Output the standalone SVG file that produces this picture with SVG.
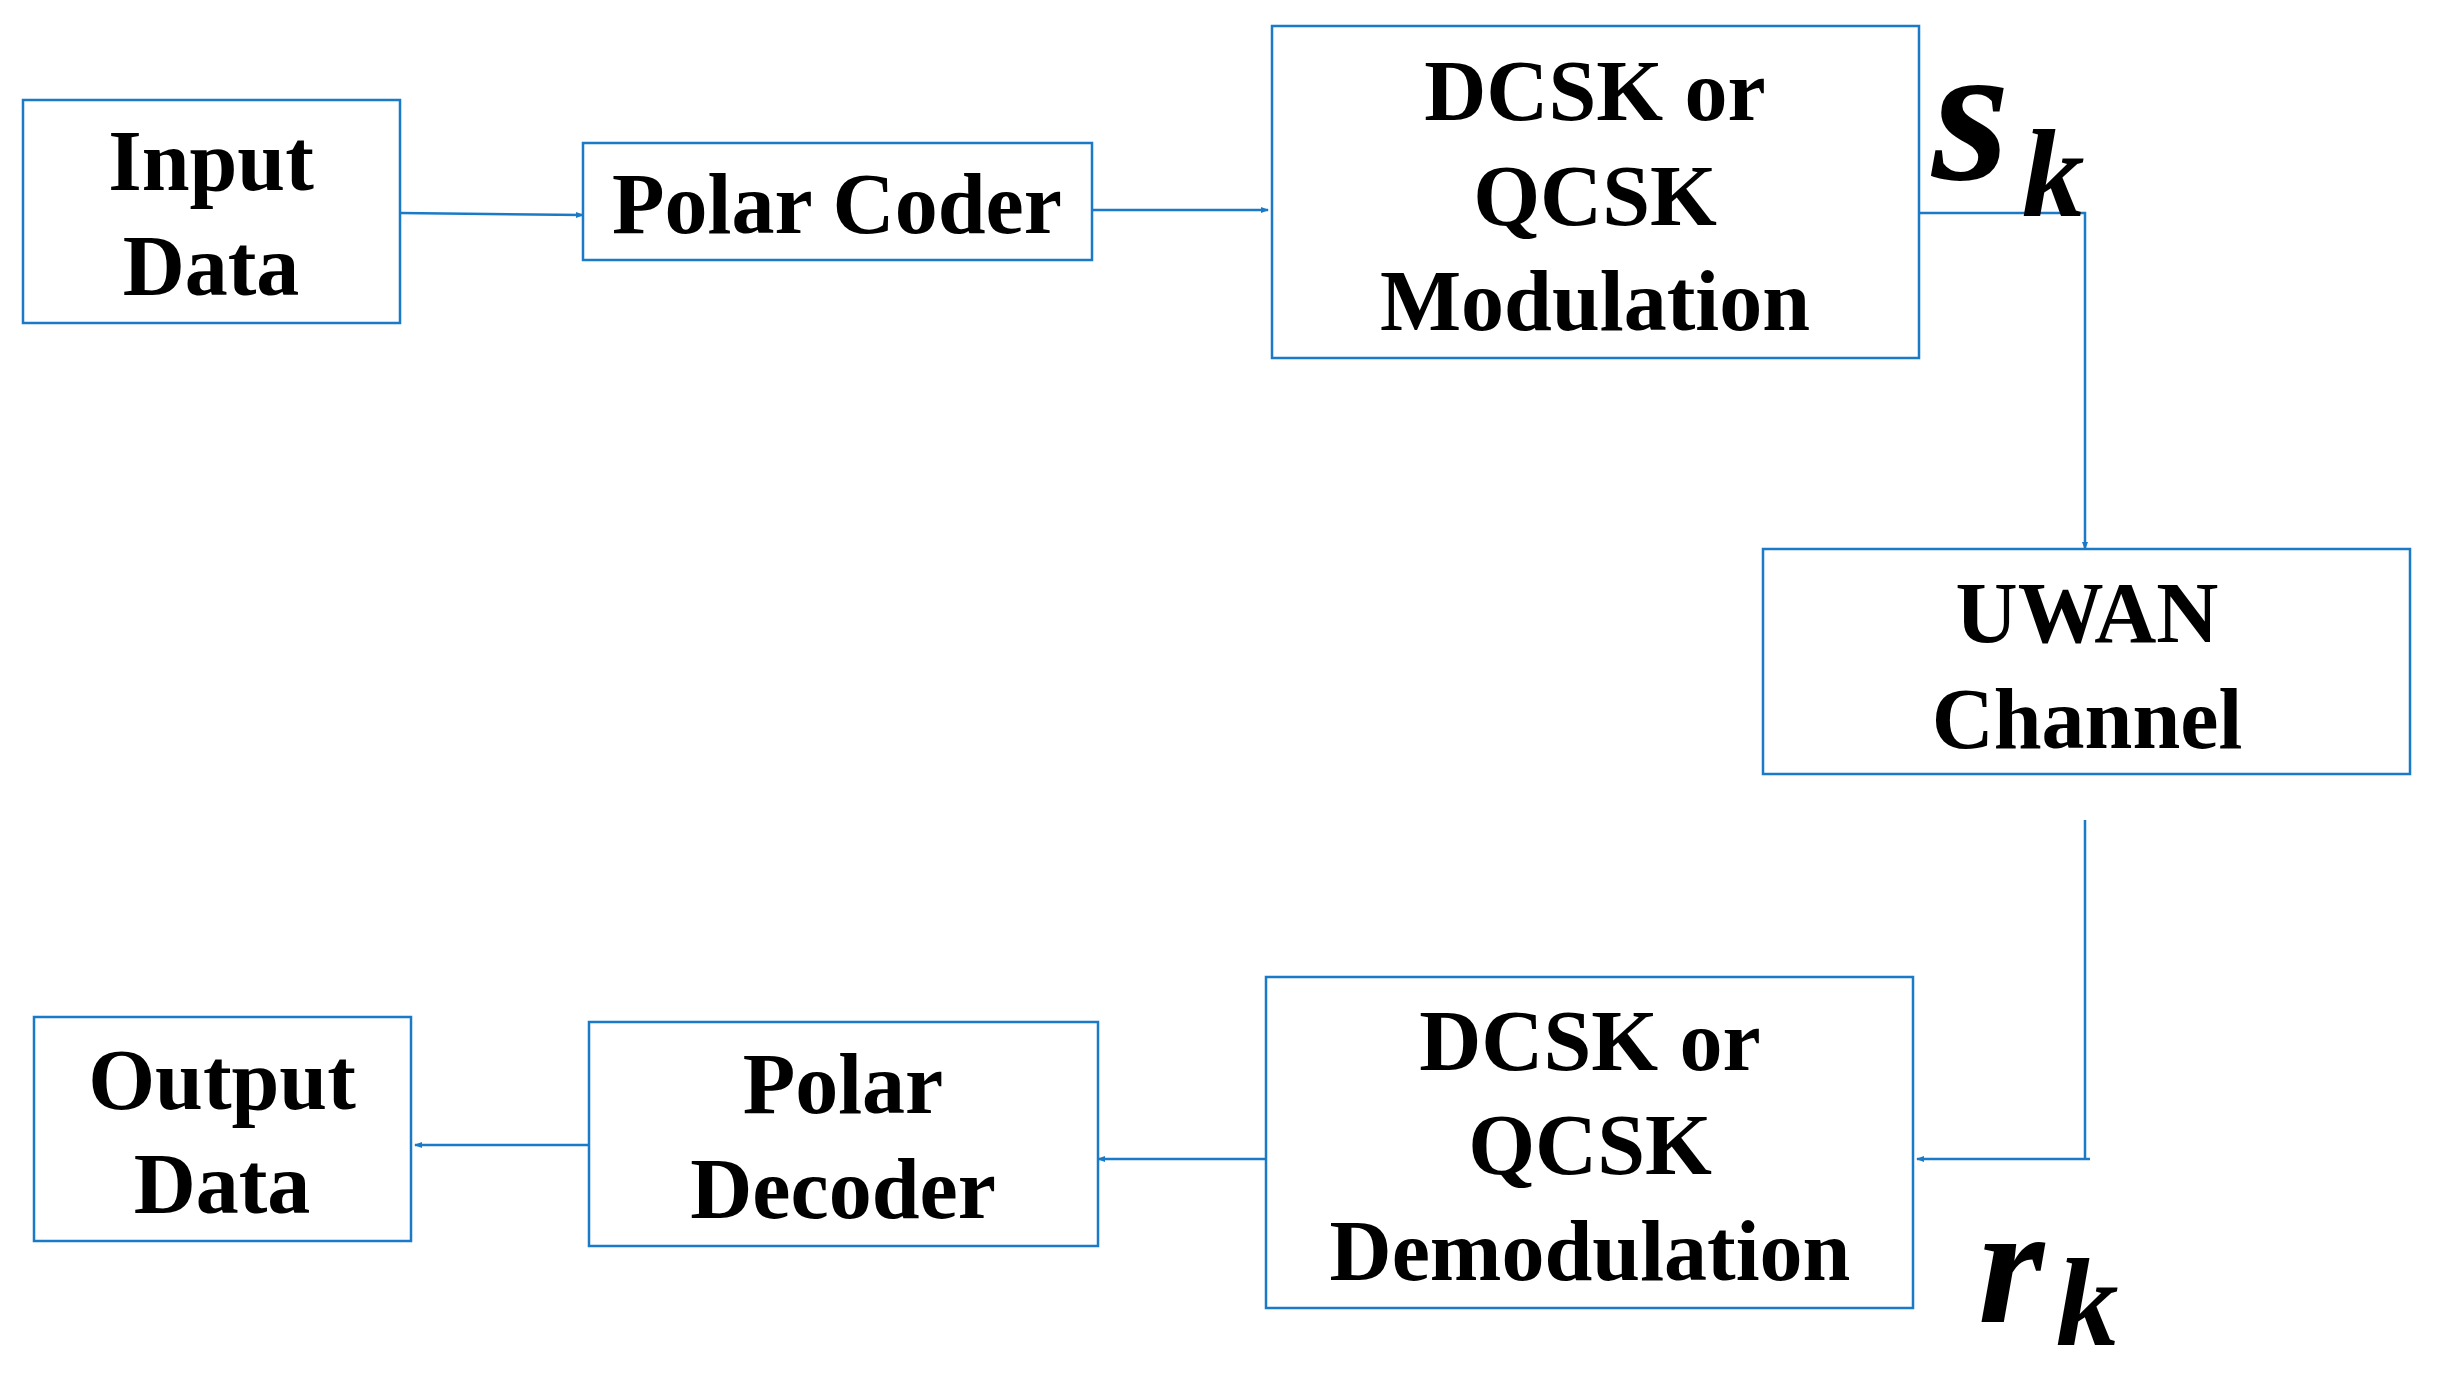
<svg xmlns="http://www.w3.org/2000/svg" width="2438" height="1376" viewBox="0 0 2438 1376">
<style>
.b{fill:#fff;stroke:#1a7ac8;stroke-width:2.5}
.t{font-family:"Liberation Serif",serif;font-weight:bold;font-size:86px;fill:#000;text-anchor:middle}
.m{font-family:"Liberation Serif",serif;font-weight:bold;font-style:italic;fill:#000}
.c{fill:none;stroke:#1a7ac8;stroke-width:2.5}
</style>
<defs><marker id="a" markerWidth="8" markerHeight="8" refX="7" refY="4" orient="auto" markerUnits="userSpaceOnUse"><path d="M0,1 L8,4 L0,7z" fill="#1a7ac8"/></marker></defs>
<rect width="2438" height="1376" fill="#fff"/>
<g id="connectors">
<path class="c" d="M400,213 L583,215" marker-end="url(#a)"/>
<path class="c" d="M1092,210 L1268,210" marker-end="url(#a)"/>
<path class="c" d="M1913,213 L2085,213 L2085,549" marker-end="url(#a)"/>
<path class="c" d="M2085,820 L2085,1159 L2090,1159 M2085,1159 L1917,1159" marker-end="url(#a)"/>
<path class="c" d="M1266,1159 L1098,1159" marker-end="url(#a)"/>
<path class="c" d="M589,1145 L415,1145" marker-end="url(#a)"/>
</g>
<g id="input"><rect class="b" x="23" y="100" width="377" height="223"/><text class="t" x="211" y="190">Input</text><text class="t" x="211" y="295">Data</text></g>
<g id="polarcoder"><rect class="b" x="583" y="143" width="509" height="117"/><text class="t" x="837" y="233">Polar Coder</text></g>
<g id="mod"><rect class="b" x="1272" y="26" width="647" height="332"/><text class="t" x="1595" y="120">DCSK or</text><text class="t" x="1595" y="225">QCSK</text><text class="t" x="1595" y="330">Modulation</text></g>
<g id="uwan"><rect class="b" x="1763" y="549" width="647" height="225"/><text class="t" x="2087" y="642">UWAN</text><text class="t" x="2087" y="748">Channel</text></g>
<g id="demod"><rect class="b" x="1266" y="977" width="647" height="331"/><text class="t" x="1590" y="1070">DCSK or</text><text class="t" x="1590" y="1174">QCSK</text><text class="t" x="1590" y="1280">Demodulation</text></g>
<g id="decoder"><rect class="b" x="589" y="1022" width="509" height="224"/><text class="t" x="843" y="1113">Polar</text><text class="t" x="843" y="1218">Decoder</text></g>
<g id="output"><rect class="b" x="34" y="1017" width="377" height="224"/><text class="t" x="222" y="1109">Output</text><text class="t" x="222" y="1213">Data</text></g>
<g id="sk"><text class="m" x="1932" y="179" font-size="200">s</text><text class="m" x="2022" y="216" font-size="125">k</text></g>
<g id="rk"><text class="m" x="1978" y="1322" font-size="170">r</text><text class="m" x="2056" y="1345" font-size="125">k</text></g>
</svg>
